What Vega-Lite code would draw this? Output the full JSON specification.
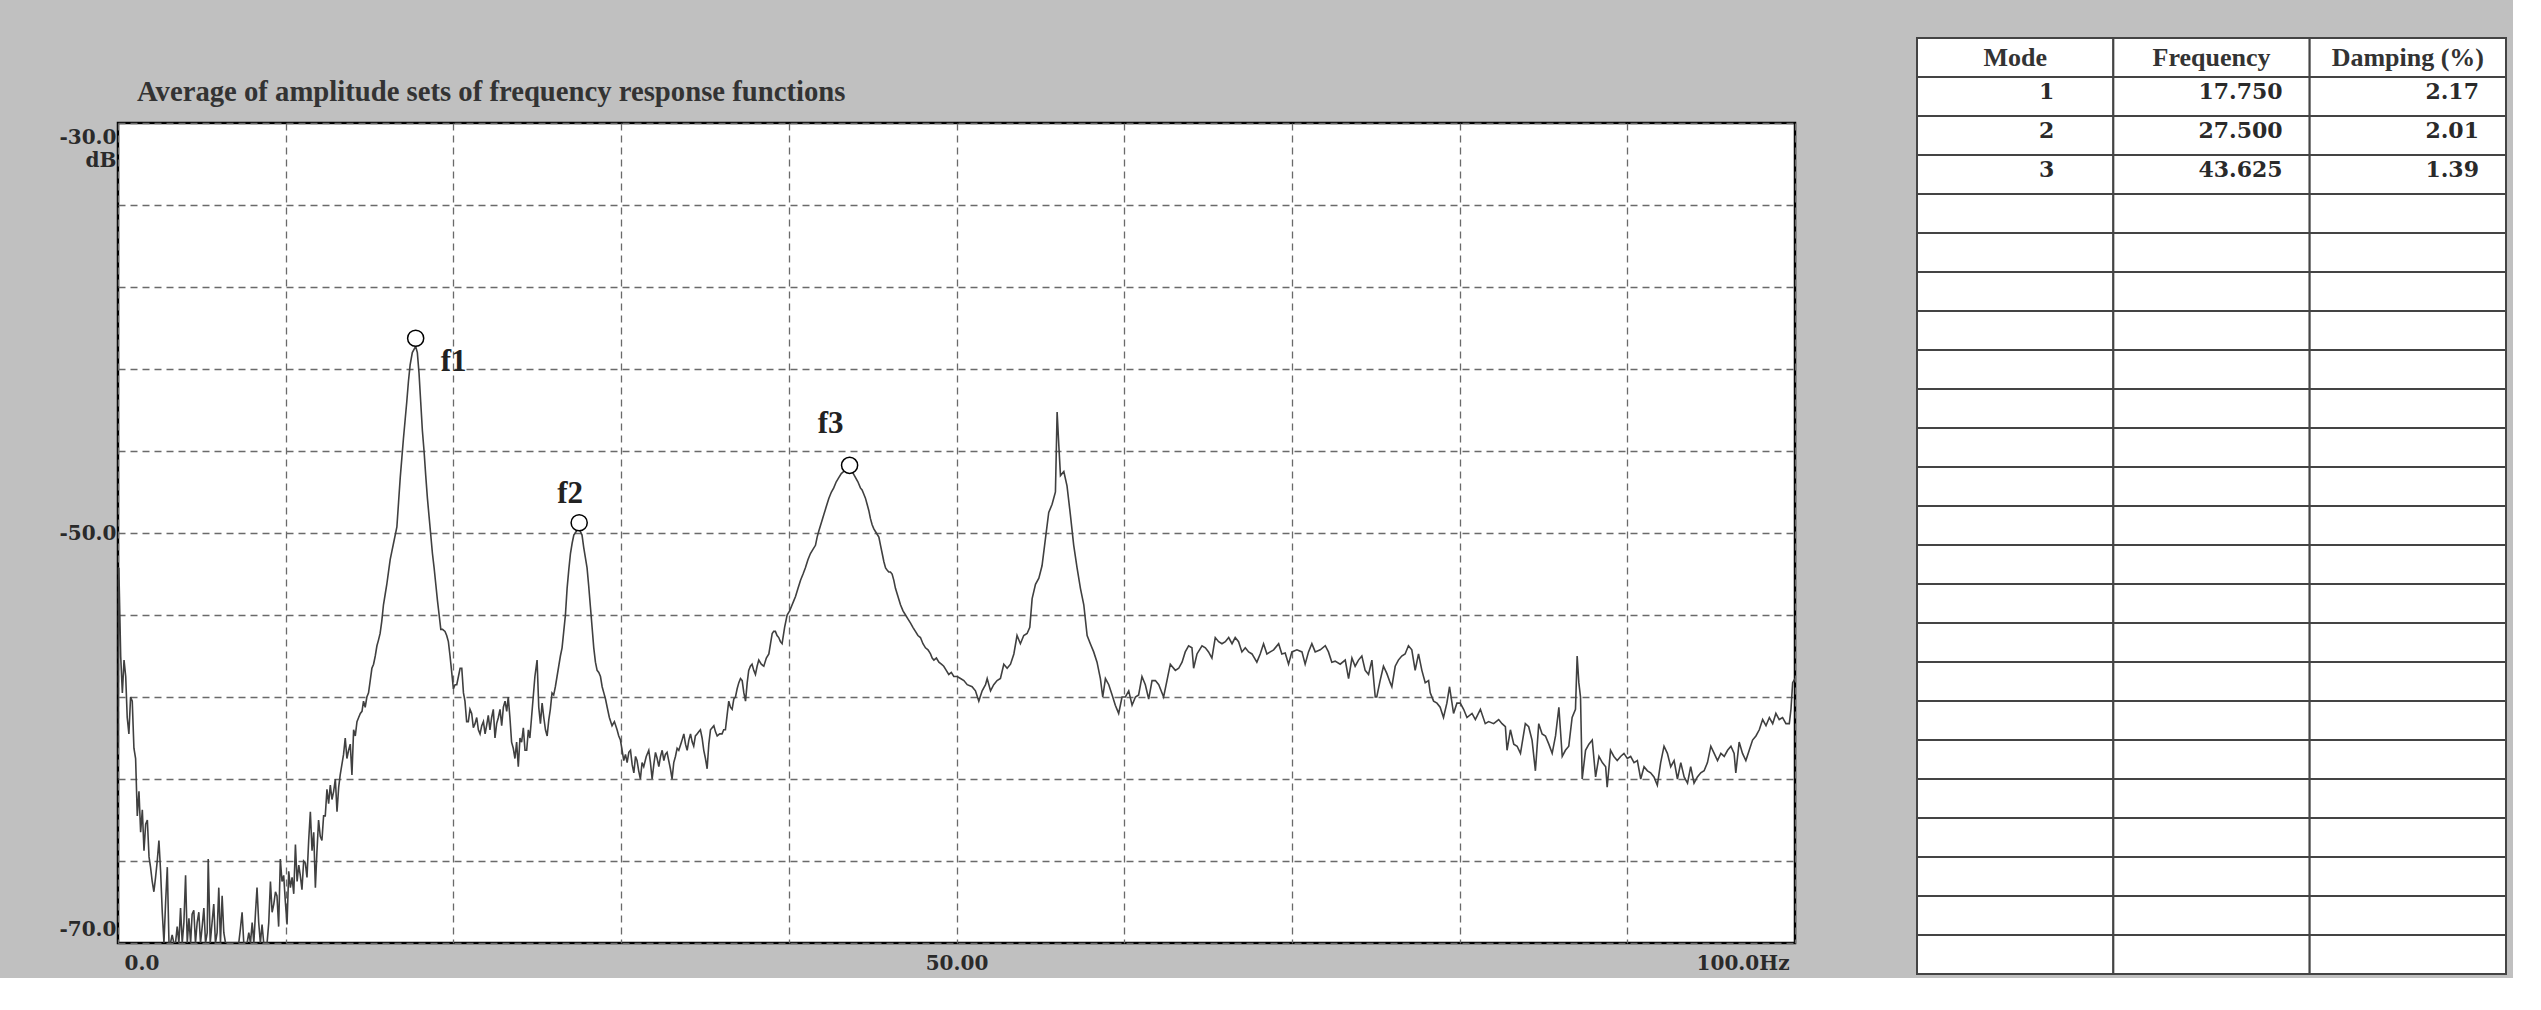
{
  "$schema": "https://vega.github.io/schema/vega-lite/v6.json",
  "background": "#c0c0c0",
  "padding": {"left": 57, "top": 37, "right": 6, "bottom": 3},
  "spacing": 119,
  "datasets": {
    "spectrum": [
      {"f":0,"db":-60.5},{"f":0.05,"db":-51.7},{"f":0.16,"db":-56.0},{"f":0.26,"db":-57.8},{"f":0.36,"db":-56.2},{"f":0.46,"db":-57.0},{"f":0.55,"db":-59.0},{"f":0.65,"db":-59.8},{"f":0.75,"db":-58.0},{"f":0.85,"db":-58.2},{"f":0.95,"db":-60.5},{"f":1.05,"db":-61.0},{"f":1.15,"db":-63.8},{"f":1.25,"db":-62.6},{"f":1.35,"db":-64.6},{"f":1.45,"db":-63.5},{"f":1.55,"db":-65.5},{"f":1.65,"db":-64.2},{"f":1.75,"db":-64.0},{"f":1.85,"db":-65.8},{"f":1.94,"db":-66.3},{"f":2.04,"db":-67.0},{"f":2.14,"db":-67.5},{"f":2.24,"db":-66.8},{"f":2.34,"db":-66.0},{"f":2.44,"db":-65.0},{"f":2.54,"db":-66.5},{"f":2.64,"db":-68.5},{"f":2.74,"db":-70},{"f":2.84,"db":-68.0},{"f":2.94,"db":-66.3},{"f":3.04,"db":-70},{"f":3.13,"db":-70},{"f":3.23,"db":-69.6},{"f":3.33,"db":-70},{"f":3.43,"db":-70},{"f":3.53,"db":-69.2},{"f":3.63,"db":-70},{"f":3.73,"db":-68.3},{"f":3.83,"db":-70},{"f":3.93,"db":-69.0},{"f":4.03,"db":-66.7},{"f":4.13,"db":-70},{"f":4.23,"db":-68.8},{"f":4.33,"db":-70},{"f":4.42,"db":-68.6},{"f":4.52,"db":-68.4},{"f":4.62,"db":-70},{"f":4.72,"db":-69.0},{"f":4.82,"db":-68.5},{"f":4.92,"db":-70},{"f":5.02,"db":-69.2},{"f":5.12,"db":-68.3},{"f":5.22,"db":-70},{"f":5.32,"db":-69.5},{"f":5.38,"db":-65.9},{"f":5.5,"db":-70},{"f":5.61,"db":-69.0},{"f":5.71,"db":-68.1},{"f":5.81,"db":-70},{"f":5.91,"db":-69.5},{"f":6.01,"db":-67.3},{"f":6.11,"db":-70},{"f":6.21,"db":-67.7},{"f":6.31,"db":-69.5},{"f":6.41,"db":-70},{"f":6.6,"db":-70},{"f":6.8,"db":-70},{"f":7.0,"db":-70},{"f":7.2,"db":-70},{"f":7.3,"db":-69.3},{"f":7.4,"db":-68.5},{"f":7.5,"db":-70},{"f":7.7,"db":-70},{"f":7.8,"db":-69.5},{"f":7.9,"db":-70},{"f":8.0,"db":-69.0},{"f":8.1,"db":-70},{"f":8.2,"db":-68.5},{"f":8.29,"db":-67.3},{"f":8.39,"db":-69.0},{"f":8.49,"db":-70},{"f":8.59,"db":-69.1},{"f":8.69,"db":-70},{"f":8.89,"db":-70},{"f":8.99,"db":-69.0},{"f":9.09,"db":-67.0},{"f":9.19,"db":-68.5},{"f":9.29,"db":-68.1},{"f":9.39,"db":-67.5},{"f":9.48,"db":-67.7},{"f":9.58,"db":-69.2},{"f":9.68,"db":-65.9},{"f":9.78,"db":-67.0},{"f":9.88,"db":-66.7},{"f":9.98,"db":-68.0},{"f":10.08,"db":-69.1},{"f":10.18,"db":-66.5},{"f":10.28,"db":-67.3},{"f":10.38,"db":-66.8},{"f":10.48,"db":-67.6},{"f":10.58,"db":-65.2},{"f":10.68,"db":-67.0},{"f":10.78,"db":-66.2},{"f":10.87,"db":-66.7},{"f":10.97,"db":-67.4},{"f":11.07,"db":-66.0},{"f":11.17,"db":-66.1},{"f":11.27,"db":-66.8},{"f":11.37,"db":-65.0},{"f":11.47,"db":-63.6},{"f":11.57,"db":-65.5},{"f":11.67,"db":-64.6},{"f":11.77,"db":-67.3},{"f":11.86,"db":-65.6},{"f":11.96,"db":-64.0},{"f":12.06,"db":-64.8},{"f":12.16,"db":-65.0},{"f":12.26,"db":-63.8},{"f":12.36,"db":-63.8},{"f":12.46,"db":-62.5},{"f":12.56,"db":-63.2},{"f":12.66,"db":-62.3},{"f":12.76,"db":-63.0},{"f":12.86,"db":-62.6},{"f":12.96,"db":-62.0},{"f":13.06,"db":-63.6},{"f":13.16,"db":-62.4},{"f":13.25,"db":-61.8},{"f":13.35,"db":-61.3},{"f":13.45,"db":-60.8},{"f":13.55,"db":-60.0},{"f":13.65,"db":-61.0},{"f":13.75,"db":-60.6},{"f":13.85,"db":-60.3},{"f":13.95,"db":-61.8},{"f":14.05,"db":-59.6},{"f":14.15,"db":-59.9},{"f":14.25,"db":-59.2},{"f":14.35,"db":-59.0},{"f":14.45,"db":-58.8},{"f":14.55,"db":-58.7},{"f":14.64,"db":-58.2},{"f":14.74,"db":-58.5},{"f":14.84,"db":-58.0},{"f":14.94,"db":-57.8},{"f":15.04,"db":-57.2},{"f":15.14,"db":-56.6},{"f":15.24,"db":-56.4},{"f":15.34,"db":-56.0},{"f":15.44,"db":-55.5},{"f":15.54,"db":-55.2},{"f":15.63,"db":-54.9},{"f":15.73,"db":-54.3},{"f":15.83,"db":-53.5},{"f":15.93,"db":-53.0},{"f":16.03,"db":-52.5},{"f":16.13,"db":-51.9},{"f":16.23,"db":-51.3},{"f":16.33,"db":-50.9},{"f":16.43,"db":-50.5},{"f":16.53,"db":-50.1},{"f":16.63,"db":-49.7},{"f":16.73,"db":-48.5},{"f":16.83,"db":-47.3},{"f":16.93,"db":-46.3},{"f":17.02,"db":-45.4},{"f":17.12,"db":-44.5},{"f":17.22,"db":-43.6},{"f":17.32,"db":-42.6},{"f":17.42,"db":-41.8},{"f":17.55,"db":-41.2},{"f":17.75,"db":-40.9},{"f":17.85,"db":-41.2},{"f":17.95,"db":-42.2},{"f":18.05,"db":-43.6},{"f":18.15,"db":-45.0},{"f":18.25,"db":-46.0},{"f":18.35,"db":-47.2},{"f":18.45,"db":-48.3},{"f":18.55,"db":-49.2},{"f":18.65,"db":-50.1},{"f":18.75,"db":-51.0},{"f":18.85,"db":-51.7},{"f":18.95,"db":-52.5},{"f":19.05,"db":-53.3},{"f":19.15,"db":-54.0},{"f":19.25,"db":-54.7},{"f":19.35,"db":-54.7},{"f":19.5,"db":-54.8},{"f":19.6,"db":-55.0},{"f":19.7,"db":-55.3},{"f":19.8,"db":-56.0},{"f":19.9,"db":-56.8},{"f":20.0,"db":-57.6},{"f":20.1,"db":-57.4},{"f":20.2,"db":-57.4},{"f":20.3,"db":-57.0},{"f":20.4,"db":-56.6},{"f":20.5,"db":-56.6},{"f":20.6,"db":-57.8},{"f":20.69,"db":-58.2},{"f":20.79,"db":-59.2},{"f":20.89,"db":-59.2},{"f":20.99,"db":-58.6},{"f":21.09,"db":-58.8},{"f":21.19,"db":-59.5},{"f":21.29,"db":-59.3},{"f":21.39,"db":-59.0},{"f":21.49,"db":-59.6},{"f":21.59,"db":-59.8},{"f":21.69,"db":-59.4},{"f":21.79,"db":-59.2},{"f":21.89,"db":-59.8},{"f":21.98,"db":-59.4},{"f":22.08,"db":-58.9},{"f":22.18,"db":-59.6},{"f":22.28,"db":-59.0},{"f":22.38,"db":-58.6},{"f":22.48,"db":-60.0},{"f":22.58,"db":-59.3},{"f":22.68,"db":-59.0},{"f":22.78,"db":-58.6},{"f":22.88,"db":-59.4},{"f":22.98,"db":-58.5},{"f":23.08,"db":-58.2},{"f":23.18,"db":-58.7},{"f":23.27,"db":-58.0},{"f":23.37,"db":-59.0},{"f":23.47,"db":-60.2},{"f":23.57,"db":-60.5},{"f":23.67,"db":-61.0},{"f":23.77,"db":-60.2},{"f":23.87,"db":-61.4},{"f":23.97,"db":-60.0},{"f":24.07,"db":-60.2},{"f":24.17,"db":-59.5},{"f":24.27,"db":-60.6},{"f":24.37,"db":-60.6},{"f":24.47,"db":-59.6},{"f":24.56,"db":-60.0},{"f":24.66,"db":-59.0},{"f":24.76,"db":-58.0},{"f":24.86,"db":-57.0},{"f":24.99,"db":-56.2},{"f":25.09,"db":-58.5},{"f":25.19,"db":-59.3},{"f":25.29,"db":-58.3},{"f":25.39,"db":-59.0},{"f":25.49,"db":-59.6},{"f":25.59,"db":-59.9},{"f":25.69,"db":-59.1},{"f":25.78,"db":-58.6},{"f":25.88,"db":-57.8},{"f":25.98,"db":-57.9},{"f":26.08,"db":-57.5},{"f":26.18,"db":-57.0},{"f":26.28,"db":-56.5},{"f":26.38,"db":-56.0},{"f":26.48,"db":-55.6},{"f":26.58,"db":-54.8},{"f":26.68,"db":-54.0},{"f":26.78,"db":-52.7},{"f":26.88,"db":-51.8},{"f":26.98,"db":-51.0},{"f":27.08,"db":-50.5},{"f":27.18,"db":-50.1},{"f":27.34,"db":-49.9},{"f":27.5,"db":-49.8},{"f":27.67,"db":-50.1},{"f":27.77,"db":-50.7},{"f":27.87,"db":-51.2},{"f":27.97,"db":-51.7},{"f":28.07,"db":-52.6},{"f":28.17,"db":-53.6},{"f":28.27,"db":-54.6},{"f":28.37,"db":-55.6},{"f":28.47,"db":-56.3},{"f":28.57,"db":-56.7},{"f":28.67,"db":-56.8},{"f":28.77,"db":-57.0},{"f":28.87,"db":-57.5},{"f":28.97,"db":-57.8},{"f":29.07,"db":-58.1},{"f":29.17,"db":-58.5},{"f":29.3,"db":-59.0},{"f":29.46,"db":-59.4},{"f":29.6,"db":-59.2},{"f":29.76,"db":-59.6},{"f":29.86,"db":-59.9},{"f":29.96,"db":-60.1},{"f":30.06,"db":-60.6},{"f":30.16,"db":-61.1},{"f":30.26,"db":-60.8},{"f":30.36,"db":-61.2},{"f":30.46,"db":-60.7},{"f":30.56,"db":-60.6},{"f":30.66,"db":-61.3},{"f":30.76,"db":-61.7},{"f":30.86,"db":-60.9},{"f":30.95,"db":-61.1},{"f":31.05,"db":-61.6},{"f":31.15,"db":-62.0},{"f":31.25,"db":-61.2},{"f":31.35,"db":-61.4},{"f":31.5,"db":-60.9},{"f":31.65,"db":-60.6},{"f":31.75,"db":-61.2},{"f":31.85,"db":-62.0},{"f":31.95,"db":-61.3},{"f":32.05,"db":-60.7},{"f":32.15,"db":-61.0},{"f":32.25,"db":-61.4},{"f":32.35,"db":-60.9},{"f":32.45,"db":-60.6},{"f":32.55,"db":-61.1},{"f":32.64,"db":-60.8},{"f":32.74,"db":-60.7},{"f":32.84,"db":-61.1},{"f":32.94,"db":-61.5},{"f":33.04,"db":-62.0},{"f":33.14,"db":-61.2},{"f":33.24,"db":-60.9},{"f":33.34,"db":-60.5},{"f":33.44,"db":-60.6},{"f":33.6,"db":-60.2},{"f":33.74,"db":-59.8},{"f":33.84,"db":-60.3},{"f":33.94,"db":-60.6},{"f":34.04,"db":-60.1},{"f":34.14,"db":-59.8},{"f":34.24,"db":-60.2},{"f":34.33,"db":-60.4},{"f":34.43,"db":-59.9},{"f":34.53,"db":-59.8},{"f":34.63,"db":-59.7},{"f":34.73,"db":-59.6},{"f":34.83,"db":-60.0},{"f":34.93,"db":-60.6},{"f":35.03,"db":-61.0},{"f":35.13,"db":-61.5},{"f":35.23,"db":-60.3},{"f":35.33,"db":-59.6},{"f":35.43,"db":-59.5},{"f":35.53,"db":-59.4},{"f":35.63,"db":-59.7},{"f":35.73,"db":-59.9},{"f":35.88,"db":-59.8},{"f":36.02,"db":-59.8},{"f":36.12,"db":-59.6},{"f":36.22,"db":-59.6},{"f":36.32,"db":-58.9},{"f":36.42,"db":-58.2},{"f":36.52,"db":-58.5},{"f":36.62,"db":-58.6},{"f":36.72,"db":-58.1},{"f":36.82,"db":-58.0},{"f":36.92,"db":-57.6},{"f":37.02,"db":-57.3},{"f":37.12,"db":-57.1},{"f":37.22,"db":-57.2},{"f":37.32,"db":-57.8},{"f":37.42,"db":-58.2},{"f":37.52,"db":-57.3},{"f":37.61,"db":-56.7},{"f":37.71,"db":-56.5},{"f":37.81,"db":-56.4},{"f":37.91,"db":-56.7},{"f":38.01,"db":-56.9},{"f":38.11,"db":-56.5},{"f":38.21,"db":-56.2},{"f":38.36,"db":-56.4},{"f":38.51,"db":-56.5},{"f":38.66,"db":-56.1},{"f":38.81,"db":-55.9},{"f":38.91,"db":-55.4},{"f":39.01,"db":-54.9},{"f":39.1,"db":-54.8},{"f":39.2,"db":-54.8},{"f":39.3,"db":-55.0},{"f":39.4,"db":-55.1},{"f":39.5,"db":-55.3},{"f":39.6,"db":-55.4},{"f":39.75,"db":-54.6},{"f":39.9,"db":-54.0},{"f":40.05,"db":-53.8},{"f":40.2,"db":-53.5},{"f":40.3,"db":-53.3},{"f":40.4,"db":-53.1},{"f":40.55,"db":-52.7},{"f":40.7,"db":-52.3},{"f":40.85,"db":-52.0},{"f":40.99,"db":-51.7},{"f":41.14,"db":-51.3},{"f":41.29,"db":-51.0},{"f":41.44,"db":-50.8},{"f":41.59,"db":-50.6},{"f":41.69,"db":-50.2},{"f":41.79,"db":-49.9},{"f":41.94,"db":-49.5},{"f":42.09,"db":-49.1},{"f":42.24,"db":-48.7},{"f":42.39,"db":-48.3},{"f":42.54,"db":-48.0},{"f":42.68,"db":-47.8},{"f":42.83,"db":-47.5},{"f":42.98,"db":-47.3},{"f":43.13,"db":-47.1},{"f":43.28,"db":-47.0},{"f":43.45,"db":-46.9},{"f":43.6,"db":-46.9},{"f":43.78,"db":-47.0},{"f":43.98,"db":-47.3},{"f":44.12,"db":-47.5},{"f":44.27,"db":-47.8},{"f":44.37,"db":-47.9},{"f":44.47,"db":-48.1},{"f":44.57,"db":-48.3},{"f":44.67,"db":-48.6},{"f":44.77,"db":-48.9},{"f":44.87,"db":-49.3},{"f":44.97,"db":-49.6},{"f":45.07,"db":-49.8},{"f":45.22,"db":-50.0},{"f":45.37,"db":-50.2},{"f":45.47,"db":-50.6},{"f":45.57,"db":-51.0},{"f":45.67,"db":-51.4},{"f":45.77,"db":-51.7},{"f":45.86,"db":-51.8},{"f":45.96,"db":-51.9},{"f":46.06,"db":-51.9},{"f":46.16,"db":-52.0},{"f":46.26,"db":-52.3},{"f":46.36,"db":-52.7},{"f":46.51,"db":-53.1},{"f":46.66,"db":-53.5},{"f":46.81,"db":-53.8},{"f":46.96,"db":-54.0},{"f":47.11,"db":-54.2},{"f":47.26,"db":-54.4},{"f":47.4,"db":-54.6},{"f":47.55,"db":-54.8},{"f":47.7,"db":-55.0},{"f":47.85,"db":-55.1},{"f":48.0,"db":-55.4},{"f":48.15,"db":-55.6},{"f":48.3,"db":-55.7},{"f":48.45,"db":-55.9},{"f":48.55,"db":-56.1},{"f":48.65,"db":-56.2},{"f":48.8,"db":-56.1},{"f":48.95,"db":-56.3},{"f":49.1,"db":-56.4},{"f":49.24,"db":-56.5},{"f":49.39,"db":-56.7},{"f":49.54,"db":-56.9},{"f":49.69,"db":-56.8},{"f":49.84,"db":-57.0},
      {"f":50.04,"db":-57.0},{"f":50.24,"db":-57.1},{"f":50.44,"db":-57.2},{"f":50.64,"db":-57.4},{"f":50.93,"db":-57.5},{"f":51.13,"db":-57.7},{"f":51.33,"db":-58.2},{"f":51.53,"db":-57.7},{"f":51.73,"db":-57.4},{"f":51.83,"db":-57.1},{"f":52.03,"db":-57.7},{"f":52.22,"db":-57.4},{"f":52.42,"db":-57.2},{"f":52.62,"db":-57.1},{"f":52.82,"db":-56.4},{"f":53.02,"db":-56.6},{"f":53.22,"db":-56.4},{"f":53.42,"db":-55.9},{"f":53.61,"db":-55.0},{"f":53.81,"db":-55.4},{"f":54.01,"db":-55.0},{"f":54.21,"db":-54.9},{"f":54.37,"db":-54.6},{"f":54.51,"db":-53.2},{"f":54.71,"db":-52.5},{"f":54.91,"db":-52.2},{"f":55.1,"db":-51.6},{"f":55.3,"db":-50.3},{"f":55.5,"db":-49.0},{"f":55.7,"db":-48.6},{"f":55.9,"db":-48.0},{"f":56.0,"db":-44.1},{"f":56.1,"db":-45.7},{"f":56.2,"db":-47.2},{"f":56.4,"db":-47.0},{"f":56.59,"db":-47.7},{"f":56.79,"db":-49.1},{"f":56.99,"db":-50.6},{"f":57.19,"db":-51.7},{"f":57.39,"db":-52.7},{"f":57.59,"db":-53.5},{"f":57.79,"db":-55.0},{"f":57.98,"db":-55.4},{"f":58.18,"db":-55.8},{"f":58.38,"db":-56.3},{"f":58.58,"db":-57.1},{"f":58.72,"db":-58.0},{"f":58.88,"db":-57.1},{"f":59.08,"db":-57.4},{"f":59.28,"db":-57.9},{"f":59.47,"db":-58.4},{"f":59.67,"db":-58.8},{"f":59.87,"db":-58.0},{"f":60.07,"db":-58.0},{"f":60.27,"db":-57.7},{"f":60.47,"db":-58.4},{"f":60.67,"db":-58.0},{"f":60.86,"db":-57.9},{"f":61.06,"db":-57.0},{"f":61.26,"db":-57.4},{"f":61.46,"db":-58.1},{"f":61.66,"db":-57.2},{"f":61.86,"db":-57.2},{"f":62.06,"db":-57.4},{"f":62.35,"db":-58.0},{"f":62.55,"db":-57.2},{"f":62.75,"db":-56.4},{"f":63.05,"db":-56.7},{"f":63.25,"db":-56.6},{"f":63.45,"db":-56.3},{"f":63.64,"db":-55.8},{"f":63.84,"db":-55.5},{"f":64.04,"db":-55.6},{"f":64.14,"db":-56.6},{"f":64.34,"db":-55.9},{"f":64.64,"db":-55.5},{"f":64.84,"db":-55.6},{"f":65.03,"db":-55.8},{"f":65.23,"db":-56.1},{"f":65.43,"db":-55.1},{"f":65.63,"db":-55.3},{"f":65.83,"db":-55.4},{"f":66.03,"db":-55.3},{"f":66.23,"db":-55.1},{"f":66.43,"db":-55.4},{"f":66.62,"db":-55.1},{"f":66.82,"db":-55.3},{"f":67.02,"db":-55.8},{"f":67.22,"db":-55.6},{"f":67.42,"db":-55.8},{"f":67.62,"db":-55.9},{"f":67.91,"db":-56.3},{"f":68.11,"db":-55.9},{"f":68.31,"db":-55.4},{"f":68.51,"db":-55.9},{"f":68.71,"db":-55.8},{"f":68.91,"db":-55.7},{"f":69.21,"db":-55.4},{"f":69.4,"db":-55.9},{"f":69.6,"db":-55.85},{"f":69.8,"db":-56.4},{"f":70.0,"db":-55.8},{"f":70.3,"db":-55.7},{"f":70.6,"db":-55.8},{"f":70.79,"db":-56.4},{"f":70.99,"db":-55.8},{"f":71.19,"db":-55.4},{"f":71.39,"db":-55.8},{"f":71.69,"db":-55.7},{"f":71.99,"db":-55.5},{"f":72.18,"db":-55.8},{"f":72.38,"db":-56.3},{"f":72.58,"db":-56.25},{"f":72.88,"db":-56.4},{"f":73.18,"db":-56.2},{"f":73.38,"db":-57.1},{"f":73.58,"db":-56.1},{"f":73.77,"db":-56.5},{"f":73.97,"db":-56.2},{"f":74.17,"db":-56.0},{"f":74.37,"db":-56.7},{"f":74.57,"db":-56.9},{"f":74.77,"db":-56.2},{"f":74.97,"db":-58.0},
      {"f":75.06,"db":-58.0},{"f":75.26,"db":-57.2},{"f":75.46,"db":-56.5},{"f":75.66,"db":-56.85},{"f":75.86,"db":-57.3},{"f":75.96,"db":-57.5},{"f":76.16,"db":-56.5},{"f":76.35,"db":-56.2},{"f":76.55,"db":-56.0},{"f":76.75,"db":-55.9},{"f":76.95,"db":-55.5},{"f":77.15,"db":-55.7},{"f":77.35,"db":-56.7},{"f":77.55,"db":-55.9},{"f":77.75,"db":-56.7},{"f":77.95,"db":-57.3},{"f":78.15,"db":-57.2},{"f":78.25,"db":-57.8},{"f":78.45,"db":-58.2},{"f":78.65,"db":-58.3},{"f":78.84,"db":-58.5},{"f":79.04,"db":-59.0},{"f":79.24,"db":-58.3},{"f":79.4,"db":-57.5},{"f":79.64,"db":-58.8},{"f":79.84,"db":-58.3},{"f":80.04,"db":-58.3},{"f":80.24,"db":-58.6},{"f":80.44,"db":-59.0},{"f":80.74,"db":-58.8},{"f":80.94,"db":-59.1},{"f":81.24,"db":-58.6},{"f":81.53,"db":-59.3},{"f":81.73,"db":-59.2},{"f":82.03,"db":-59.3},{"f":82.33,"db":-59.1},{"f":82.53,"db":-59.3},{"f":82.73,"db":-59.45},{"f":82.83,"db":-60.6},{"f":83.03,"db":-59.6},{"f":83.23,"db":-60.3},{"f":83.43,"db":-60.4},{"f":83.63,"db":-60.75},{"f":83.92,"db":-59.3},{"f":84.12,"db":-59.45},{"f":84.32,"db":-60.1},{"f":84.52,"db":-61.6},{"f":84.72,"db":-59.3},{"f":84.92,"db":-59.8},{"f":85.12,"db":-59.9},{"f":85.32,"db":-60.3},{"f":85.52,"db":-60.75},{"f":85.72,"db":-59.9},{"f":85.92,"db":-58.5},{"f":86.12,"db":-60.9},{"f":86.31,"db":-60.6},{"f":86.51,"db":-60.4},{"f":86.71,"db":-59.0},{"f":86.91,"db":-58.6},{"f":87.01,"db":-56.0},{"f":87.11,"db":-57.3},{"f":87.21,"db":-58.0},{"f":87.31,"db":-62.0},{"f":87.51,"db":-60.6},{"f":87.71,"db":-60.3},{"f":87.91,"db":-60.1},{"f":88.11,"db":-61.9},{"f":88.31,"db":-60.9},{"f":88.51,"db":-61.2},{"f":88.71,"db":-61.4},{"f":88.8,"db":-62.4},{"f":89.0,"db":-60.6},{"f":89.2,"db":-60.9},{"f":89.4,"db":-61.1},{"f":89.6,"db":-60.9},{"f":89.8,"db":-60.75},{"f":90.0,"db":-61.0},{"f":90.2,"db":-60.9},{"f":90.4,"db":-61.2},{"f":90.6,"db":-61.1},{"f":90.8,"db":-62.0},{"f":91.0,"db":-61.4},{"f":91.2,"db":-61.6},{"f":91.39,"db":-61.7},{"f":91.59,"db":-61.9},{"f":91.79,"db":-62.3},{"f":91.99,"db":-61.2},{"f":92.19,"db":-60.4},{"f":92.39,"db":-60.75},{"f":92.59,"db":-61.4},{"f":92.79,"db":-61.1},{"f":92.99,"db":-62.0},{"f":93.19,"db":-61.2},{"f":93.39,"db":-61.9},{"f":93.59,"db":-62.2},{"f":93.78,"db":-61.4},{"f":93.98,"db":-62.2},{"f":94.18,"db":-61.9},{"f":94.38,"db":-61.7},{"f":94.58,"db":-61.6},{"f":94.78,"db":-61.2},{"f":94.98,"db":-60.4},{"f":95.18,"db":-60.75},{"f":95.38,"db":-61.1},{"f":95.58,"db":-60.75},{"f":95.78,"db":-60.9},{"f":95.98,"db":-60.6},{"f":96.18,"db":-60.4},{"f":96.37,"db":-60.75},{"f":96.47,"db":-61.7},{"f":96.67,"db":-60.2},{"f":96.87,"db":-60.75},{"f":97.07,"db":-61.1},{"f":97.27,"db":-60.6},{"f":97.47,"db":-60.1},{"f":97.67,"db":-59.9},{"f":97.87,"db":-59.6},{"f":98.07,"db":-59.1},{"f":98.27,"db":-59.4},{"f":98.47,"db":-59.0},{"f":98.67,"db":-59.3},{"f":98.86,"db":-58.8},{"f":99.06,"db":-59.1},{"f":99.26,"db":-59.0},{"f":99.46,"db":-59.3},{"f":99.66,"db":-59.3},{"f":99.76,"db":-58.6},{"f":99.86,"db":-57.3},{"f":100.0,"db":-57.1}
    ],
    "peaks": [
      {"f":17.75,"db":-40.5,"label":"f1"},
      {"f":27.5,"db":-49.5,"label":"f2"},
      {"f":43.625,"db":-46.7,"label":"f3"}
    ],
    "table": [
      {"r":0,"Mode":"Mode","Frequency":"Frequency","Damping":"Damping (%)"},
      {"r":1,"Mode":"1","Frequency":"17.750","Damping":"2.17"},
      {"r":2,"Mode":"2","Frequency":"27.500","Damping":"2.01"},
      {"r":3,"Mode":"3","Frequency":"43.625","Damping":"1.39"},
      {"r":4,"Mode":"","Frequency":"","Damping":""},
      {"r":5,"Mode":"","Frequency":"","Damping":""},
      {"r":6,"Mode":"","Frequency":"","Damping":""},
      {"r":7,"Mode":"","Frequency":"","Damping":""},
      {"r":8,"Mode":"","Frequency":"","Damping":""},
      {"r":9,"Mode":"","Frequency":"","Damping":""},
      {"r":10,"Mode":"","Frequency":"","Damping":""},
      {"r":11,"Mode":"","Frequency":"","Damping":""},
      {"r":12,"Mode":"","Frequency":"","Damping":""},
      {"r":13,"Mode":"","Frequency":"","Damping":""},
      {"r":14,"Mode":"","Frequency":"","Damping":""},
      {"r":15,"Mode":"","Frequency":"","Damping":""},
      {"r":16,"Mode":"","Frequency":"","Damping":""},
      {"r":17,"Mode":"","Frequency":"","Damping":""},
      {"r":18,"Mode":"","Frequency":"","Damping":""},
      {"r":19,"Mode":"","Frequency":"","Damping":""},
      {"r":20,"Mode":"","Frequency":"","Damping":""},
      {"r":21,"Mode":"","Frequency":"","Damping":""},
      {"r":22,"Mode":"","Frequency":"","Damping":""},
      {"r":23,"Mode":"","Frequency":"","Damping":""}
    ]
  },
  "hconcat": [
    {
      "spacing": 0,
      "vconcat": [
        {
          "width": 1677,
          "height": 39,
          "view": {"stroke": null, "fill": null},
          "data": {"values": []},
          "mark": {"type": "rect", "opacity": 0}
        },
        {
          "width": 1677,
          "height": 820,
          "view": {"fill": "white", "stroke": "#000000", "strokeWidth": 2.5},
          "title": {
            "text": "Average of amplitude sets of frequency response functions",
            "lineHeight": 29,
            "font": "Liberation Serif",
            "fontWeight": "bold",
            "fontSize": 28.7,
            "color": "#333333",
            "anchor": "start",
            "frame": "group",
            "dx": 19,
            "offset": 16
          },
          "layer": [
            {
              "data": {"name": "spectrum"},
              "mark": {"type": "line", "color": "#404040", "strokeWidth": 1.6, "clip": true},
              "encoding": {
                "x": {
                  "field": "f", "type": "quantitative",
                  "scale": {"domain": [0, 100], "nice": false, "zero": false},
                  "axis": {
                    "title": null,
                    "values": [0, 10, 20, 30, 40, 50, 60, 70, 80, 90, 100],
                    "labelExpr": "datum.value == 0 ? '0.0' : datum.value == 50 ? '50.00' : datum.value == 100 ? '100.0Hz' : ''",
                    "labelFlush": true,
                    "labelFlushOffset": -6,
                    "labelOverlap": false,
                    "labelBound": false,
                    "grid": true,
                    "gridDash": [7, 5],
                    "gridColor": "#6a6a6a",
                    "gridWidth": 1.3,
                    "ticks": false,
                    "domain": false,
                    "labelFont": "DejaVu Serif",
                    "labelFontWeight": "bold",
                    "labelFontSize": 20,
                    "labelColor": "#2a2a2a",
                    "labelPadding": 10
                  }
                },
                "y": {
                  "field": "db", "type": "quantitative",
                  "scale": {"domain": [-70, -30], "nice": false, "zero": false},
                  "axis": {
                    "values": [-70, -66, -62, -58, -54, -50, -46, -42, -38, -34, -30],
                    "labelExpr": "datum.value == -30 ? '-30.0' : datum.value == -50 ? '-50.0' : datum.value == -70 ? '-70.0' : ''",
                    "labelFlush": true,
                    "labelFlushOffset": -4,
                    "labelOverlap": false,
                    "labelBound": false,
                    "grid": true,
                    "gridDash": [7, 5],
                    "gridColor": "#6a6a6a",
                    "gridWidth": 1.3,
                    "ticks": false,
                    "domain": false,
                    "labelFont": "DejaVu Serif",
                    "labelFontWeight": "bold",
                    "labelFontSize": 20,
                    "labelColor": "#2a2a2a",
                    "labelPadding": 2,
                    "title": "dB",
                    "titleAngle": 0,
                    "titleAlign": "right",
                    "titleBaseline": "top",
                    "titleX": -2,
                    "titleY": 27,
                    "titleFont": "DejaVu Serif",
                    "titleFontWeight": "bold",
                    "titleFontSize": 20,
                    "titleColor": "#2a2a2a"
                  }
                }
              }
            },
            {
              "data": {"name": "peaks"},
              "mark": {"type": "point", "shape": "circle", "size": 260, "filled": false, "fill": "white", "fillOpacity": 1, "stroke": "#000000", "strokeWidth": 1.5, "opacity": 1},
              "encoding": {
                "x": {"field": "f", "type": "quantitative"},
                "y": {"field": "db", "type": "quantitative"}
              }
            },
            {
              "data": {"name": "peaks"},
              "transform": [{"filter": "datum.label == 'f1'"}],
              "mark": {"type": "text", "font": "Liberation Serif", "fontWeight": "bold", "fontSize": 31, "color": "#222222", "dx": 38, "dy": 24},
              "encoding": {
                "x": {"field": "f", "type": "quantitative"},
                "y": {"field": "db", "type": "quantitative"},
                "text": {"field": "label"}
              }
            },
            {
              "data": {"name": "peaks"},
              "transform": [{"filter": "datum.label == 'f2'"}],
              "mark": {"type": "text", "font": "Liberation Serif", "fontWeight": "bold", "fontSize": 31, "color": "#222222", "dx": -9, "dy": -29},
              "encoding": {
                "x": {"field": "f", "type": "quantitative"},
                "y": {"field": "db", "type": "quantitative"},
                "text": {"field": "label"}
              }
            },
            {
              "data": {"name": "peaks"},
              "transform": [{"filter": "datum.label == 'f3'"}],
              "mark": {"type": "text", "font": "Liberation Serif", "fontWeight": "bold", "fontSize": 31, "color": "#222222", "dx": -19, "dy": -41},
              "encoding": {
                "x": {"field": "f", "type": "quantitative"},
                "y": {"field": "db", "type": "quantitative"},
                "text": {"field": "label"}
              }
            }
          ]
        }
      ]
    },
    {
      "width": 589,
      "height": 936,
      "view": {"stroke": null},
      "data": {"name": "table"},
      "transform": [{"fold": ["Mode", "Frequency", "Damping"], "as": ["col", "txt"]}],
      "encoding": {
        "x": {"field": "col", "type": "nominal", "sort": ["Mode", "Frequency", "Damping"], "scale": {"paddingInner": 0, "paddingOuter": 0}, "axis": null},
        "y": {"field": "r", "type": "ordinal", "scale": {"paddingInner": 0, "paddingOuter": 0}, "axis": null}
      },
      "layer": [
        {"mark": {"type": "rect", "fill": "white", "stroke": "#444444", "strokeWidth": 2}},
        {
          "transform": [{"filter": "datum.r == 0"}],
          "mark": {"type": "text", "font": "Liberation Serif", "fontWeight": "bold", "fontSize": 26, "color": "#333333"},
          "encoding": {"text": {"field": "txt"}}
        },
        {
          "transform": [{"filter": "datum.r > 0 && datum.col == 'Mode'"}],
          "mark": {"type": "text", "align": "right", "dx": -59, "dy": -5, "font": "DejaVu Serif", "fontWeight": "bold", "fontSize": 22, "color": "#2a2a2a"},
          "encoding": {
            "x": {"field": "col", "type": "nominal", "sort": ["Mode", "Frequency", "Damping"], "bandPosition": 1},
            "text": {"field": "txt"}
          }
        },
        {
          "transform": [{"filter": "datum.r > 0 && datum.col != 'Mode'"}],
          "mark": {"type": "text", "align": "right", "dx": -27, "dy": -5, "font": "DejaVu Serif", "fontWeight": "bold", "fontSize": 22, "color": "#2a2a2a"},
          "encoding": {
            "x": {"field": "col", "type": "nominal", "sort": ["Mode", "Frequency", "Damping"], "bandPosition": 1},
            "text": {"field": "txt"}
          }
        }
      ]
    }
  ],
  "config": {"view": {"stroke": null}}
}
